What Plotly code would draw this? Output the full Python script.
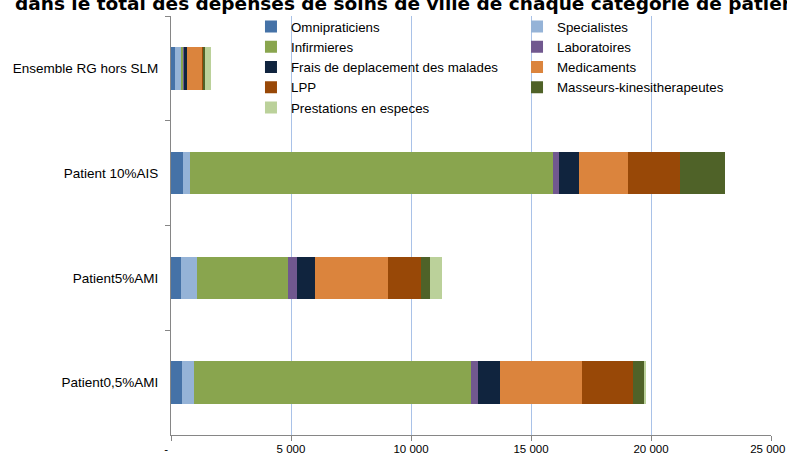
import plotly.graph_objects as go

categories = ["Ensemble RG hors SLM", "Patient 10%AIS", "Patient5%AMI", "Patient0,5%AMI"]

series_names = [
    "Omnipraticiens", "Specialistes", "Infirmieres", "Laboratoires",
    "Frais de deplacement des malades", "Medicaments", "LPP",
    "Masseurs-kinesitherapeutes", "Prestations en especes",
]

omnipraticiens = [155, 500, 420, 460]
specialistes = [245, 290, 680, 490]
infirmieres = [110, 15110, 3780, 11530]
laboratoires = [45, 270, 375, 330]
frais_deplacement = [95, 820, 765, 910]
medicaments = [630, 2070, 3040, 3410]
lpp = [90, 2140, 1350, 2130]
masseurs_kine = [45, 1870, 370, 460]
prestations_especes = [235, 0, 510, 40]

series_values = [
    omnipraticiens, specialistes, infirmieres, laboratoires, frais_deplacement,
    medicaments, lpp, masseurs_kine, prestations_especes,
]

colors = ["#4572A7", "#95B3D7", "#89A54E", "#71588F", "#10243E",
          "#DB843D", "#984807", "#4F6228", "#BBD19A"]

# legend column of each series (left / right), as in the reference legend
legend_column = ["legend", "legend2", "legend", "legend2", "legend",
                 "legend2", "legend", "legend2", "legend"]

x_tickvals = [0, 5000, 10000, 15000, 20000, 25000]
x_ticktext = ["-\u00a0\u00a0\u00a0", "5 000", "10 000", "15 000", "20 000", "25 000\u00a0\u00a0"]

title_text = "dans le total des depenses de soins de ville de chaque categorie de patient"

fig = go.Figure()
for name, vals, col, leg in zip(series_names, series_values, colors, legend_column):
    fig.add_trace(go.Bar(
        name=name, y=categories, x=vals, orientation="h",
        marker=dict(color=col, line=dict(width=0)),
        legend=leg,
    ))

legend_font = dict(size=13.3, family="Liberation Sans, Arial, sans-serif", color="#000000")

fig.update_layout(
    template="none",
    width=787, height=455,
    barmode="stack", bargap=0.595,
    plot_bgcolor="white", paper_bgcolor="white",
    margin=dict(l=171, r=16, t=11, b=20, pad=0),
    font=dict(family="Liberation Sans, Arial, sans-serif", size=13, color="#000000"),
    showlegend=True,
    legend=dict(
        orientation="v", traceorder="normal",
        x=0.1333, xanchor="left", y=1.0113, yanchor="top",
        bgcolor="rgba(0,0,0,0)", borderwidth=0, font=legend_font,
        itemwidth=30, tracegroupgap=0,
    ),
    legend2=dict(
        orientation="v", traceorder="normal",
        x=0.5767, xanchor="left", y=1.0113, yanchor="top",
        bgcolor="rgba(0,0,0,0)", borderwidth=0, font=legend_font,
        itemwidth=30, tracegroupgap=0,
    ),
    xaxis=dict(
        range=[0, 25000], tickvals=x_tickvals, ticktext=x_ticktext,
        showgrid=True, gridcolor="#A9C2E8", gridwidth=1,
        showline=True, linecolor="#868686", linewidth=1,
        ticks="outside", ticklen=5, tickcolor="#868686",
        tickfont=dict(size=11.5, color="#000000"),
        zeroline=False, fixedrange=True, automargin=False,
        ticklabeloverflow="allow", ticklabelstandoff=-2,
    ),
    yaxis=dict(
        categoryorder="array", categoryarray=categories, autorange="reversed",
        showline=True, linecolor="#868686", linewidth=1,
        ticks="outside", ticklen=5, tickcolor="#868686", tickson="boundaries",
        tickfont=dict(size=13.5, color="#000000"),
        showgrid=False, zeroline=False, fixedrange=True, automargin=False,
        ticklabelstandoff=9,
    ),
    annotations=[dict(
        text=title_text, xref="paper", yref="paper",
        x=-0.263, xanchor="left", y=1, yanchor="bottom", yshift=0,
        showarrow=False,
        font=dict(family="DejaVu Sans, sans-serif", size=18.5, color="#000000", weight="bold"),
    )],
)

fig.write_html("out.html", config={"displayModeBar": False},
               post_script="document.body.style.margin='0';")
